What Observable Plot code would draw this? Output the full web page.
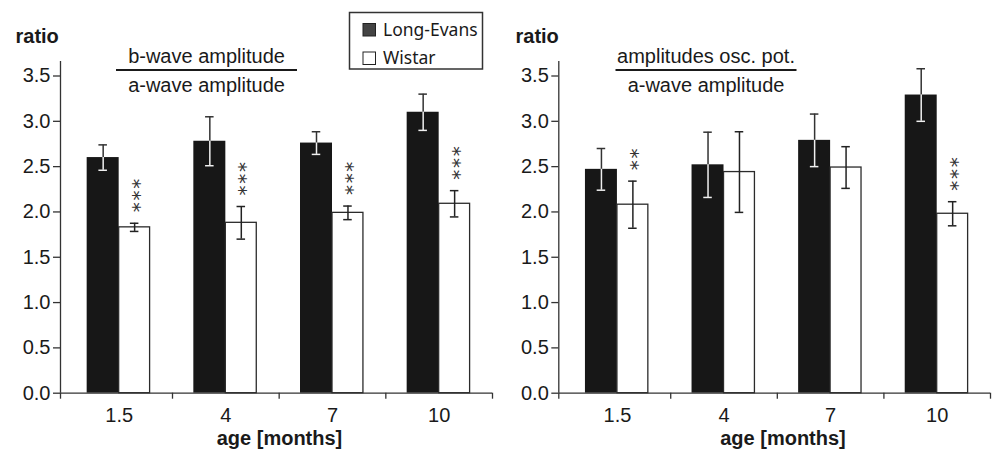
<!DOCTYPE html>
<html><head><meta charset="utf-8">
<script src="https://cdn.jsdelivr.net/npm/d3@7"></script>
<script src="https://cdn.jsdelivr.net/npm/@observablehq/plot@0.6"></script>
<style>
body{margin:0;background:#fff;}
#wrap{position:relative;width:993px;height:450px;overflow:hidden;background:#fff;}
#wrap svg{position:absolute;top:0;}
</style></head><body><div id="wrap"></div>
<script>
// ---- data ----
const ages = ["1.5", "4", "7", "10"];
const strains = ["Long-Evans", "Wistar"];
const yTicks = [0, 0.5, 1, 1.5, 2, 2.5, 3, 3.5];
const yLabel = "ratio";
const xLabel = "age [months]";
const numerators = ["b-wave amplitude", "amplitudes osc. pot."];
const denominator = "a-wave amplitude";

// left panel: b-wave / a-wave
const bwLE = [2.60, 2.78, 2.76, 3.10];
const bwLEerr = [0.14, 0.27, 0.125, 0.20];
const bwW = [1.83, 1.88, 1.99, 2.09];
const bwWerr = [0.045, 0.18, 0.075, 0.145];
const bwStars = ["***", "***", "***", "***"];

// right panel: osc. pot. / a-wave
const opLE = [2.47, 2.52, 2.79, 3.29];
const opLEerr = [0.23, 0.36, 0.29, 0.29];
const opW = [2.08, 2.44, 2.49, 1.98];
const opWerr = [0.26, 0.445, 0.23, 0.133];
const opStars = ["**", "", "", "***"];

const FONT = "'Liberation Sans', Arial, Helvetica, sans-serif";
const INK = "#1a1a1a";
const LINE = "#333";

function panel(le, leErr, w, wErr, stars, o) {
  const rows = ages.map((a, i) => ({i, age: a, le: le[i], leErr: leErr[i], w: w[i], wErr: wErr[i], stars: stars[i]}));
  const x0 = -0.05;
  const cLE = d => d.i + 0.35;
  const cW = d => d.i + 0.645;
  const cap = 0.04;
  const svg = Plot.plot({
    width: o.width, height: 450,
    marginLeft: o.ml, marginRight: o.mr, marginTop: 61, marginBottom: 57.3,
    style: {fontFamily: FONT, fontSize: "20px", color: INK, background: "transparent", overflow: "visible"},
    x: {type: "linear", domain: [x0, ages.length], axis: null},
    y: {domain: [0, 3.66], axis: null},
    marks: [
      Plot.rectY(rows, {x1: d => d.i + 0.2, x2: d => d.i + 0.5, y1: 0, y2: "le", fill: "#171717"}),
      Plot.rectY(rows, {x1: d => d.i + 0.5, x2: d => d.i + 0.79, y1: 0, y2: "w", fill: "white", stroke: "#2b2b2b", strokeWidth: 1.3}),
      // Long-Evans error bars: dark above bar top, white inside bar
      Plot.ruleX(rows, {x: cLE, y1: "le", y2: d => d.le + d.leErr, stroke: LINE, strokeWidth: 1.5}),
      Plot.ruleX(rows, {x: cLE, y1: d => d.le - d.leErr, y2: "le", stroke: "#f0f0f0", strokeWidth: 1.5}),
      Plot.ruleY(rows, {y: d => d.le + d.leErr, x1: d => cLE(d) - cap, x2: d => cLE(d) + cap, stroke: LINE, strokeWidth: 1.5}),
      Plot.ruleY(rows, {y: d => d.le - d.leErr, x1: d => cLE(d) - cap, x2: d => cLE(d) + cap, stroke: "#f0f0f0", strokeWidth: 1.5}),
      // Wistar error bars
      Plot.ruleX(rows, {x: cW, y1: d => d.w - d.wErr, y2: d => d.w + d.wErr, stroke: "#222", strokeWidth: 1.5}),
      Plot.ruleY(rows, {y: d => d.w + d.wErr, x1: d => cW(d) - cap, x2: d => cW(d) + cap, stroke: "#222", strokeWidth: 1.5}),
      Plot.ruleY(rows, {y: d => d.w - d.wErr, x1: d => cW(d) - cap, x2: d => cW(d) + cap, stroke: "#222", strokeWidth: 1.5}),
      // significance stars, stacked vertically (rotated text)
      Plot.text(rows, {x: cW, y: d => d.w + d.wErr, text: "stars", rotate: -90, textAnchor: "start", lineAnchor: "middle",
        dy: -11, dx: 4.6, fontSize: 20, fontFamily: "'DejaVu Sans', sans-serif", fill: "#333"}),
      // axis lines
      Plot.ruleY([0], {stroke: LINE, strokeWidth: 1.3}),
      Plot.ruleX([x0], {stroke: LINE, strokeWidth: 1.3}),
      Plot.axisY({ticks: yTicks, tickFormat: d3.format(".1f"), tickSize: 7, tickPadding: 3, stroke: LINE, strokeWidth: 1.3}),
      Plot.axisX({ticks: [x0, 1, 2, 3, 4], tickSize: 6, tickFormat: () => "", stroke: LINE, strokeWidth: 1.3}),
      Plot.axisX({ticks: ages.map((a, i) => i + 0.5), tickSize: 0, tickPadding: 15, tickFormat: v => ages[Math.floor(v)]})
    ]
  });
  d3.select(svg).selectAll("text")
    .filter(function () { return /^\*+$/.test(this.textContent); })
    .attr("letter-spacing", "1.7px").style("letter-spacing", "1.7px");
  svg.style.left = o.left + "px";
  return svg;
}

const wrap = document.getElementById("wrap");
wrap.appendChild(panel(bwLE, bwLEerr, bwW, bwWerr, bwStars, {width: 497, ml: 60, mr: 5, left: 0}));
wrap.appendChild(panel(opLE, opLEerr, opW, opWerr, opStars, {width: 496, ml: 61.3, mr: 3, left: 497}));

// ---- overlay: titles, axis labels, legend ----
const ov = d3.select(wrap).append("svg").attr("width", 993).attr("height", 450).style("left", "0px").style("pointer-events", "none");
function txt(x, y, s, opt = {}) {
  return ov.append("text").attr("x", x).attr("y", y).text(s)
    .attr("font-family", opt.ff || FONT).attr("font-size", opt.fs || 20)
    .attr("font-weight", opt.fw || "normal").attr("text-anchor", opt.ta || "start")
    .attr("fill", INK);
}
const panelX = [0, 500];
const titleC = [206.5, 706];
const xLabC = [279.5, 783];
panelX.forEach((px, k) => {
  txt(px + 15.5, 43, yLabel, {fw: "bold", fs: 20});
  txt(xLabC[k], 444.5, xLabel, {fw: "bold", fs: 20, ta: "middle"});
  txt(titleC[k], 63, numerators[k], {ta: "middle"});
  txt(titleC[k], 92, denominator, {ta: "middle"});
  ov.append("line").attr("x1", titleC[k] - 90.5).attr("x2", titleC[k] + 90.5).attr("y1", 70).attr("y2", 70)
    .attr("stroke", INK).attr("stroke-width", 2);
});
// legend
ov.append("rect").attr("x", 349.5).attr("y", 12.5).attr("width", 133).attr("height", 56.5)
  .attr("fill", "white").attr("stroke", LINE).attr("stroke-width", 1.5);
const legFill = ["#444", "white"];
strains.forEach((s, k) => {
  const y = 23.5 + k * 28.5;
  ov.append("rect").attr("x", 363).attr("y", y).attr("width", 12.5).attr("height", 12.5)
    .attr("fill", legFill[k]).attr("stroke", "#222").attr("stroke-width", 1);
  txt(383, y + 12, s, {ff: "'Noto Sans', 'DejaVu Sans', sans-serif", fs: 17.5});
});
</script>
</body></html>
